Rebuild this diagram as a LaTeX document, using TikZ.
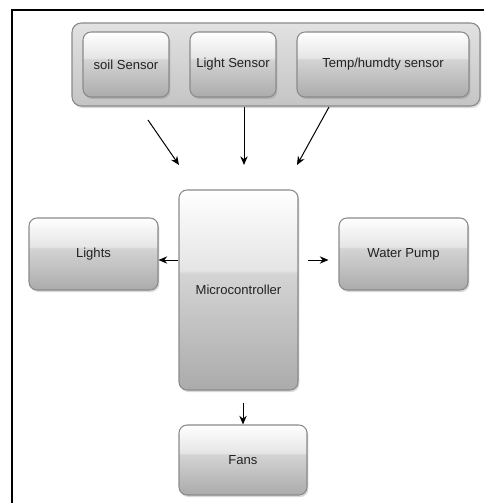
\documentclass[tikz,border=0pt]{standalone}
\usepackage{fontspec}
\setmainfont{Liberation Sans}
\usetikzlibrary{arrows.meta,shadows}

\definecolor{boxedge}{HTML}{8A8A8A}
\definecolor{boxlow}{HTML}{ABABAB}
\definecolor{boxmid}{HTML}{D4D4D4}
\definecolor{boxhigh}{HTML}{E5E5E5}
\definecolor{traylow}{HTML}{C4C4C4}
\definecolor{trayhigh}{HTML}{E2E2E2}
\definecolor{labelgray}{HTML}{222222}
\pgfdeclareverticalshading{glossy}{100bp}{color(0bp)=(boxlow); color(25bp)=(boxlow); color(54bp)=(boxmid); color(55bp)=(boxhigh); color(75bp)=(white); color(100bp)=(white)}

\tikzset{
  unitbox/.style={draw=boxedge, line width=0.8pt, rounded corners=6pt, shading=glossy,
    drop shadow={shadow xshift=1pt, shadow yshift=-1.5pt, opacity=0.3},
    text=labelgray, font=\fontsize{9.8}{12}\selectfont, inner sep=0pt},
  tray/.style={draw=boxedge, line width=0.8pt, rounded corners=7pt, top color=trayhigh, bottom color=traylow,
    drop shadow={shadow xshift=1pt, shadow yshift=-1.5pt, opacity=0.3}, inner sep=0pt},
  flow/.style={-{Stealth[length=6.5pt,width=5.5pt]}, line width=0.75pt}
}

\begin{document}
\begin{tikzpicture}[x=0.75pt,y=-0.75pt]
\useasboundingbox (0,0) rectangle (484,503);
\draw [line width=1.6pt] (12,503) -- (12,10) -- (484,10);

\node [tray, minimum width=306pt, minimum height=62.25pt] (sensors) at (276,64.5) {};
\node [unitbox, minimum width=64.5pt, minimum height=48.75pt] (soil) at (126,64.5) {soil Sensor};
\node [unitbox, minimum width=64.5pt, minimum height=48.75pt] (light) at (233,64.5) {Light Sensor};
\node [unitbox, minimum width=129pt, minimum height=48.75pt] (temp) at (383,64.5) {Temp/humdty sensor};

\node [unitbox, minimum width=89.25pt, minimum height=150pt] (micro) at (238.5,290) {Microcontroller};
\node [unitbox, minimum width=96.75pt, minimum height=54pt] (lights) at (93.5,254) {Lights};
\node [unitbox, minimum width=96.75pt, minimum height=54pt] (pump) at (403.5,254) {Water Pump};
\node [unitbox, minimum width=96pt, minimum height=52.5pt] (fans) at (243,460) {Fans};

\coordinate (soilout) at (148,120);
\coordinate (soilin) at (179,165);
\coordinate (lightout) at (244,107);
\coordinate (lightin) at (244,165);
\coordinate (tempout) at (329,107);
\coordinate (tempin) at (297,165);
\coordinate (side) at (0,260);

\draw [flow] (soilout) -- (soilin);
\draw [flow] (lightout) -- (lightin);
\draw [flow] (tempout) -- (tempin);
\draw [flow] (micro.west |- side) -- (lights.east |- side);
\draw [flow, shorten <=6.75pt, shorten >=7.5pt] (micro.east |- side) -- (pump.west |- side);
\draw [flow, shorten <=9pt] (micro.south -| fans.north) -- (fans.north);
\end{tikzpicture}
\end{document}
